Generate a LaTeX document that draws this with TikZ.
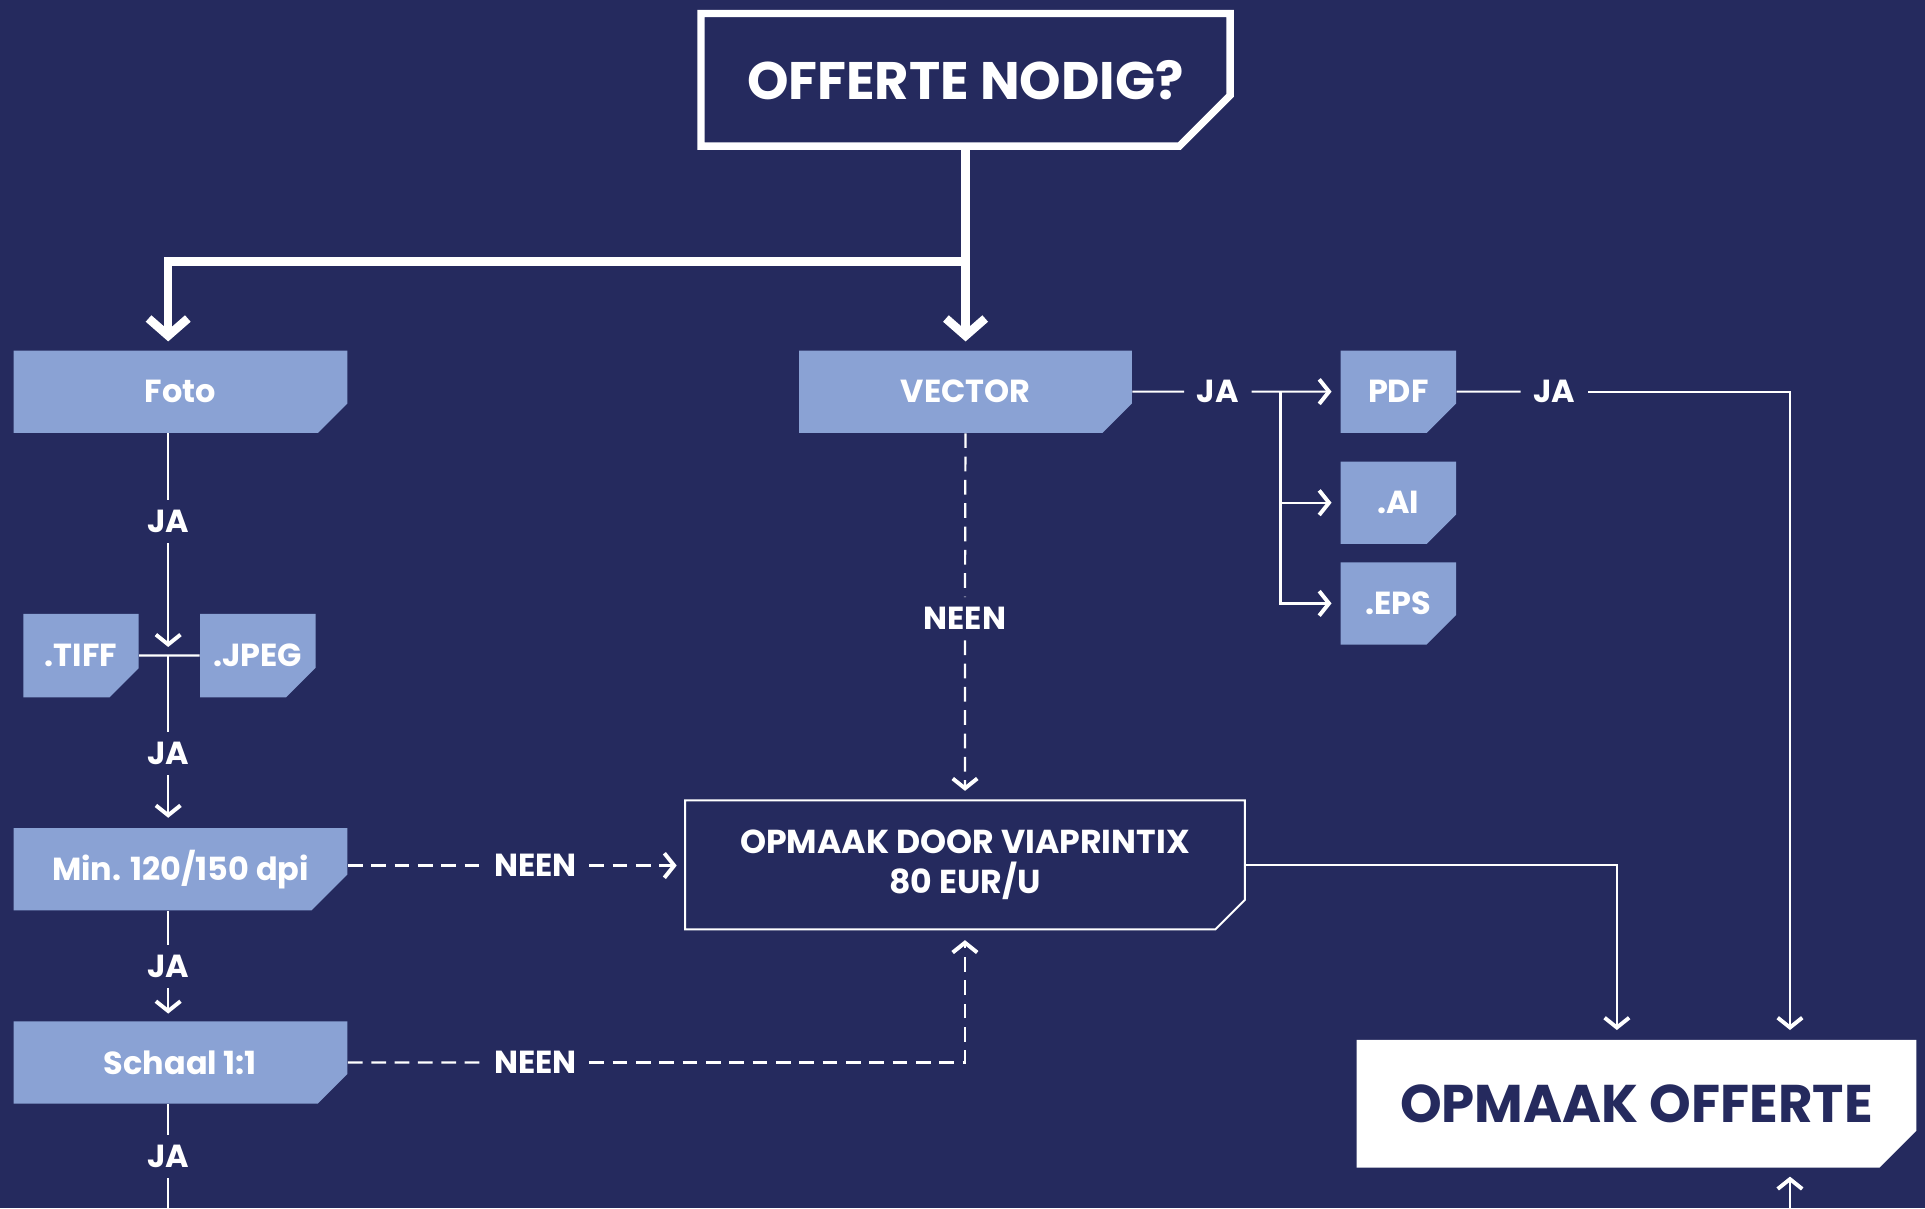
\documentclass[tikz,border=0pt]{standalone}
\usepackage{fontspec}
\setmainfont{Poppins}
\usetikzlibrary{arrows.meta,shapes.misc}
\definecolor{navy}{HTML}{252A5E}
\definecolor{lblue}{HTML}{8AA2D4}

\tikzset{
  filebox/.style={chamfered rectangle,chamfered rectangle corners=south east,chamfered rectangle sep=7.3pt,
    fill=lblue,text=white,inner sep=0pt,minimum height=33.5pt,font=\bfseries\fontsize{13}{15}\selectfont},
  lbl/.style={text=white,inner xsep=5pt,inner ysep=4pt,font=\bfseries\fontsize{13}{15}\selectfont},
  lnk/.style={white,line width=0.9pt,-{Straight Barb[length=4pt,width=10pt,line width=1.6pt]}},
  pln/.style={white,line width=0.9pt},
  dsh/.style={white,line width=0.9pt,dash pattern=on 6pt off 3.5pt},
  thk/.style={white,line width=3.5pt}
}

\begin{document}
\begin{tikzpicture}[x=0.5pt,y=-0.5pt]
	\fill[navy] (0,0) rectangle (1568,984);
	\useasboundingbox (0,0) rectangle (1568,984);

	\node[chamfered rectangle,chamfered rectangle corners=south east,chamfered rectangle sep=12.6pt,draw=white,line width=3pt,fill=navy,text=white,minimum width=215.5pt,minimum height=54pt,inner sep=0pt,font=\bfseries\fontsize{21.5}{25}\selectfont] (top) at (786.5,65) {OFFERTE NODIG?};

	\node[filebox,minimum width=136pt] (foto) at (147,319) {Foto};
	\node[filebox,minimum width=135.5pt] (vector) at (786.5,319) {VECTOR};
	\node[filebox,minimum width=47pt] (pdf) at (1139,319) {PDF};
	\node[filebox,minimum width=47pt] (ai) at (1139,409.5) {.AI};
	\node[filebox,minimum width=47pt] (eps) at (1139,491.5) {.EPS};
	\node[filebox,minimum width=47pt,minimum height=34pt] (tiff) at (66,534) {.TIFF};
	\node[filebox,minimum width=47pt,minimum height=34pt] (jpeg) at (210,534) {.JPEG};
	\node[filebox,minimum width=136pt] (min) at (147,708) {Min. 120/150 dpi};
	\node[filebox,minimum width=136pt] (schaal) at (147,865.5) {Schaal 1:1};

	\node[chamfered rectangle,chamfered rectangle corners=south east,chamfered rectangle sep=6pt,draw=white,line width=0.8pt,text=white,align=center,minimum width=228pt,minimum height=52.5pt,inner sep=0pt,font=\bfseries\fontsize{13.5}{16}\selectfont] (door) at (786,704.5) {OPMAAK DOOR VIAPRINTIX\\80 EUR/U};
	\node[chamfered rectangle,chamfered rectangle corners=south east,chamfered rectangle sep=7.5pt,fill=white,text=navy,minimum width=228pt,minimum height=52pt,inner sep=0pt,font=\bfseries\fontsize{21.6}{26}\selectfont] (offerte) at (1333,899) {OPMAAK OFFERTE};

	\node[lbl] (ja1) at (137,425) {JA};
	\node[lbl] (ja2) at (137,614) {JA};
	\node[lbl] (ja3) at (137,787) {JA};
	\node[lbl] (ja4) at (137,942) {JA};
	\node[lbl] (jav) at (992,319) {JA};
	\node[lbl] (jap) at (1266,319) {JA};
	\node[lbl] (neenv) at (786,504) {NEEN};
	\node[lbl] (neenm) at (436,705) {NEEN};
	\node[lbl] (neens) at (436,865.5) {NEEN};

	\coordinate (split) at (786.5,213);
	\coordinate (jt) at (137,527);
	\coordinate (jx) at (137,534);
	\coordinate (br) at (1043,319);
	\coordinate (ot1) at (1317,847);
	\coordinate (ot2) at (1458,847);
	\coordinate (ob) at (1458,984);
	\coordinate (fb) at (137,984);

	% start
	\draw[thk] (top.south) -- (split);
	\draw[thk,-{Straight Barb[length=7pt,width=16pt,line width=3.5pt]},shorten >=3.5pt] (split) -| (ja1 |- foto.north);
	\draw[thk,-{Straight Barb[length=7pt,width=16pt,line width=3.5pt]},shorten >=3.5pt] (split) -- (vector.north);

	% foto
	\draw[pln] (ja1 |- foto.south) -- (ja1);
	\draw[lnk] (ja1) -- (jt);
	\draw[pln] (tiff) -- (jpeg);
	\draw[pln] (jx) -- (ja2);
	\draw[lnk,shorten >=4pt] (ja2) -- (ja2 |- min.north);
	\draw[pln] (ja3 |- min.south) -- (ja3);
	\draw[lnk,shorten >=3pt] (ja3) -- (ja3 |- schaal.north);
	\draw[pln] (ja4 |- schaal.south) -- (ja4);
	\draw[pln] (ja4) -- (fb);

	% vector
	\draw[pln] (vector) -- (jav);
	\draw[lnk,shorten >=3.5pt] (jav) -- (pdf);
	\draw[lnk,shorten >=3.5pt] (br) |- (ai);
	\draw[lnk,shorten >=3.5pt] (br) |- (eps);
	\draw[pln] (pdf) -- (jap);
	\draw[lnk,shorten >=4pt] (jap) -| (ot2);

	% neen
	\draw[dsh] (vector) -- (neenv);
	\draw[dsh,-{Straight Barb[length=4pt,width=10pt,line width=1.6pt]},shorten >=3.5pt] (neenv) -- (door);
	\draw[dsh] (neenm -| min.east) -- (neenm);
	\draw[dsh,-{Straight Barb[length=4pt,width=10pt,line width=1.6pt]},shorten >=3pt] (neenm) -- (neenm -| door.west);
	\draw[dsh] (schaal) -- (neens);
	\draw[dsh,-{Straight Barb[length=4pt,width=10pt,line width=1.6pt]},shorten >=4pt] (neens) -| (door.south);

	% offerte
	\draw[lnk,shorten >=4pt] (door.east) -| (ot1);
	\draw[lnk,shorten >=3.5pt] (ob) -- (ob |- offerte.south);
\end{tikzpicture}
\end{document}
